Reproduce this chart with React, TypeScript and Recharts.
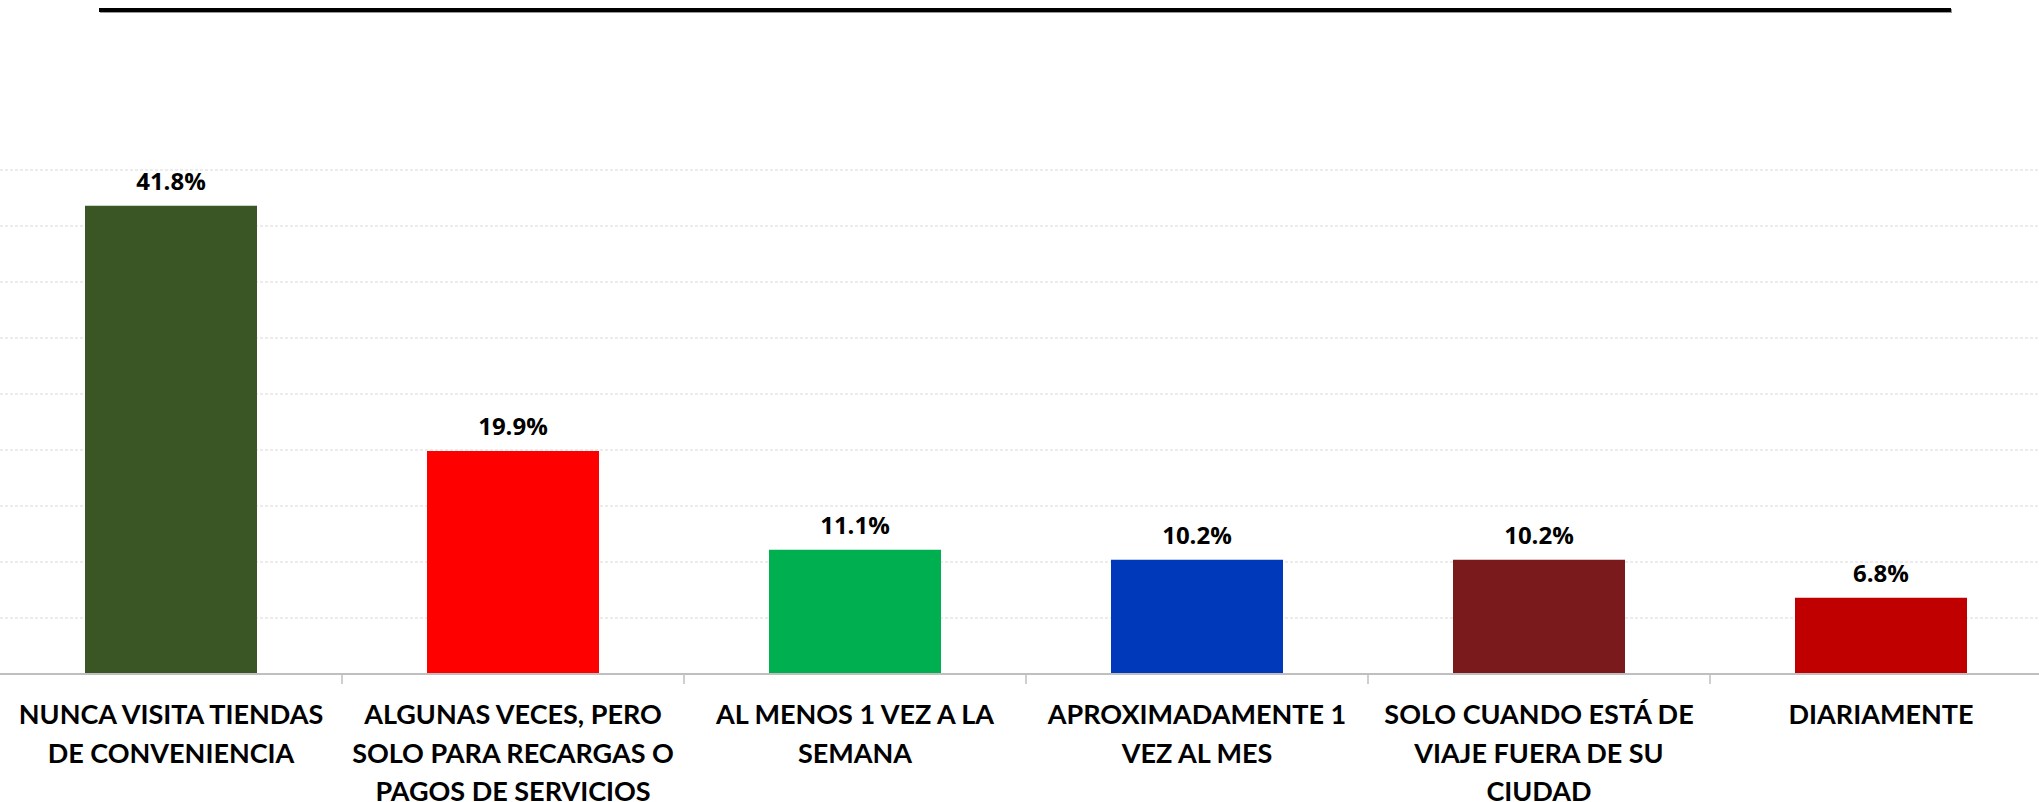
import React from 'react';
import { BarChart, Bar, XAxis, YAxis, CartesianGrid, Cell, LabelList } from 'recharts';

const categories = [
  'NUNCA VISITA TIENDAS\nDE CONVENIENCIA',
  'ALGUNAS VECES, PERO\nSOLO PARA RECARGAS O\nPAGOS DE SERVICIOS',
  'AL MENOS 1 VEZ A LA\nSEMANA',
  'APROXIMADAMENTE 1\nVEZ AL MES',
  'SOLO CUANDO ESTÁ DE\nVIAJE FUERA DE SU\nCIUDAD',
  'DIARIAMENTE',
];
const values = [41.8, 19.9, 11.1, 10.2, 10.2, 6.8];
const colors = ['#3A5625', '#FF0000', '#00B050', '#0039B9', '#7A1A1C', '#C00000'];
const yTicks = [0, 5, 10, 15, 20, 25, 30, 35, 40, 45];

const data = categories.map((name, i) => ({ name, value: values[i] }));

const LABEL_FONT = 'Lato, "Open Sans", sans-serif';
const VALUE_FONT = '"Open Sans", sans-serif';

// label lines plus the small separator tick at the right edge of each category band
const CategoryTick = (props: any) => {
  const { x, y, payload, index } = props;
  const lines = String(payload.value).split('\n');
  const half = payload.offset || 0;
  const last = index === categories.length - 1;
  return (
    <g transform={`translate(${x},${y})`}>
      {!last && half > 0 && <line x1={half} x2={half} y1={0} y2={10} stroke="#bfbfbf" strokeWidth={1.5} />}
      <text textAnchor="middle" fontFamily={LABEL_FONT} fontWeight="bold" fontSize={27} fill="#000">
        {lines.map((line, i) => (
          <tspan key={i} x={0} dy={i === 0 ? 50 : 38.5}>
            {line}
          </tspan>
        ))}
      </text>
    </g>
  );
};

const App: React.FC = () => {
  return (
    <div style={{ position: 'absolute', left: 0, top: 0, width: 2039, height: 802, overflow: 'hidden', background: '#fff' }}>
      <div style={{ position: 'absolute', left: 99, top: 8, width: 1852, height: 4, background: '#000', boxShadow: '1px 1px 0 #999' }} />
      <BarChart
        width={2052}
        height={802}
        data={data}
        margin={{ top: 170, right: 0, bottom: 0, left: 0 }}
      >
        <CartesianGrid vertical={false} stroke="#d9d9d9" strokeDasharray="3 2" />
        <YAxis hide domain={[0, 45]} ticks={yTicks} width={0} />
        <XAxis
          dataKey="name"
          interval={0}
          height={128}
          tickLine={false}
          tickSize={0}
          tickMargin={0}
          axisLine={{ stroke: '#bfbfbf', strokeWidth: 2 }}
          tick={<CategoryTick />}
        />
        <Bar dataKey="value" barSize={172} isAnimationActive={false}>
          {data.map((_, i) => (
            <Cell key={i} fill={colors[i]} />
          ))}
          <LabelList
            dataKey="value"
            position="top"
            offset={16}
            formatter={(v: any) => `${Number(v).toFixed(1)}%`}
            fontFamily={VALUE_FONT}
            fontWeight="bold"
            fontSize={24}
            fill="#000"
          />
        </Bar>
      </BarChart>
    </div>
  );
};

export default App;
